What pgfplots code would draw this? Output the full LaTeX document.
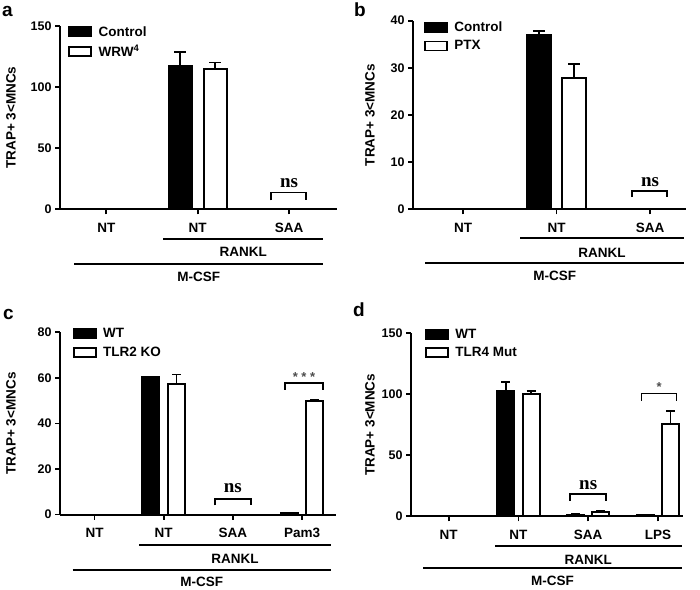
\documentclass[border=0pt]{standalone}
\usepackage{pgfplots}
\pgfplotsset{compat=1.18}
\usepackage{fontspec}
\setmainfont{Liberation Sans}
\newfontfamily\serifns{Liberation Serif}
\newcommand{\fs}[1]{\fontsize{#1}{#1}\selectfont}

\pgfplotsset{
 prism/.style={
  scale only axis, anchor=south west, clip=false,
  axis lines*=left,
  axis line style={line width=2pt, black},
  ymin=0, enlargelimits=false,
  tick align=outside, major tick length=5pt,
  tick style={line width=1.8pt, black},
  ticklabel style={font=\bfseries\fs{12.5}},
  xticklabel style={font=\bfseries\fs{13.5}, yshift=-5pt},
  /pgf/number format/assume math mode=true,
  ybar,
  legend cell align=left,
  legend style={draw=none, fill=none, anchor=north west, inner sep=0pt, row sep=4.5pt, font=\bfseries\fs{13.5},
     nodes={inner sep=1.5pt}, /tikz/every odd column/.append style={column sep=5pt}},
 },
 ylab/.style={every axis y label/.style={at={(rel axis cs:#1,0.5)}, rotate=90, anchor=center, font=\bfseries\fs{13.5}}},
 boxlegend/.style={legend image code/.code={\draw[##1, line width=1.8pt] (0pt,-4.5pt) rectangle (22pt,4.5pt);}},
 ctrl/.style={fill=black, draw=black, line width=2pt, boxlegend},
 trt/.style={fill=white, draw=black, line width=2pt, boxlegend},
 eb/.style={/pgfplots/error bars/y dir=plus, /pgfplots/error bars/y explicit,
   /pgfplots/error bars/error bar style={line width=1.8pt, black},
   /pgfplots/error bars/error mark options={rotate=90, mark size=#1, line width=1.8pt, black}},
}

\begin{document}
\begin{tikzpicture}
\path[use as bounding box] (0pt,0pt) rectangle (700pt,589pt);

% ---------------- panel a
\begin{axis}[prism, ylab=-0.177,
  at={(60pt,379.7pt)}, width=277pt, height=183.3pt,
  xmin=-0.507, xmax=2.525, ymax=150,
  xtick={0,1,2}, xticklabels={NT,NT,SAA},
  ytick={0,50,100,150},
  bar width=23pt, ybar=12pt,
  ylabel={TRAP+ 3<MNCs},
  legend style={at={(rel axis cs:0.029,1.008)}},
]
\addplot[ctrl, eb=6pt] coordinates {(1,117.5) +- (0,11.2)};
\addplot[trt, eb=6pt] coordinates {(1,114.6) +- (0,5.6)};
\legend{Control, WRW\textsuperscript{4}}
\draw[line width=1.8pt] (axis cs:1.803,7.4) -- (axis cs:1.803,13.7) -- (axis cs:2.186,13.7) -- (axis cs:2.186,7.4);
\node[font=\serifns\bfseries\fs{19}] at (axis cs:2,21.8) {ns};
\end{axis}

% ---------------- panel b
\begin{axis}[prism, ylab=-0.158,
  at={(413pt,379.7pt)}, width=273pt, height=188.6pt,
  xmin=-0.535, xmax=2.385, ymax=40,
  xtick={0,1,2}, xticklabels={NT,NT,SAA},
  ytick={0,10,20,30,40},
  bar width=23.6pt, ybar=11.8pt,
  ylabel={TRAP+ 3<MNCs},
  legend style={at={(rel axis cs:0.040,1.003)}},
]
\addplot[ctrl, eb=6pt] coordinates {(1,36.9) +- (0,0.9)};
\addplot[trt, eb=6pt] coordinates {(1,27.9) +- (0,3.0)};
\legend{Control, PTX}
\draw[line width=1.8pt] (axis cs:1.81,2.6) -- (axis cs:1.81,3.9) -- (axis cs:2.185,3.9) -- (axis cs:2.185,2.6);
\node[font=\serifns\bfseries\fs{19}] at (axis cs:2,5.7) {ns};
\end{axis}

% ---------------- panel c
\begin{axis}[prism, ylab=-0.178,
  at={(60pt,74.5pt)}, width=276pt, height=182.2pt,
  xmin=-0.499, xmax=3.49, ymax=80,
  xtick={0,1,2,3}, xticklabels={NT,NT,SAA,Pam3},
  ytick={0,20,40,60,80},
  bar width=17pt, ybar=8.6pt,
  ylabel={TRAP+ 3<MNCs},
  legend style={at={(rel axis cs:0.046,1.031)}},
]
\addplot[ctrl, eb=4.5pt] coordinates {(1,60.3) +- (0,0.3) (3,0.5) +- (0,0.1)};
\addplot[trt, eb=4.5pt] coordinates {(1,57.4) +- (0,4.1) (3,49.8) +- (0,0.7)};
\legend{WT, TLR2 KO}
\draw[line width=1.8pt] (axis cs:1.742,4.0) -- (axis cs:1.742,6.9) -- (axis cs:2.258,6.9) -- (axis cs:2.258,4.0);
\node[font=\serifns\bfseries\fs{19}] at (axis cs:2,11.4) {ns};
\draw[line width=1.8pt] (axis cs:2.754,54.8) -- (axis cs:2.754,57.7) -- (axis cs:3.299,57.7) -- (axis cs:3.299,54.8);
\node[font=\bfseries\fs{13}, text=black!70] at (axis cs:3.027,60.5) {*\ *\ *};
\end{axis}

% ---------------- panel d
\begin{axis}[prism, ylab=-0.151,
  at={(411pt,72.7pt)}, width=272pt, height=183pt,
  xmin=-0.541, xmax=3.36, ymax=150,
  xtick={0,1,2,3}, xticklabels={NT,NT,SAA,LPS},
  ytick={0,50,100,150},
  bar width=17pt, ybar=8.3pt,
  ylabel={TRAP+ 3<MNCs},
  legend style={at={(rel axis cs:0.051,1.034)}},
]
\addplot[ctrl, eb=4.5pt] coordinates {(1,102.9) +- (0,7.4) (2,1.2) +- (0,0.5) (3,1.2) +- (0,0.3)};
\addplot[trt, eb=4.5pt] coordinates {(1,100.2) +- (0,2.8) (2,3.5) +- (0,1.0) (3,75.5) +- (0,11.0)};
\legend{WT, TLR4 Mut}
\draw[line width=1.8pt] (axis cs:1.738,12.6) -- (axis cs:1.738,18) -- (axis cs:2.254,18) -- (axis cs:2.254,12.6);
\node[font=\serifns\bfseries\fs{19}] at (axis cs:2,25.5) {ns};
\draw[line width=1.8pt] (axis cs:2.766,94.7) -- (axis cs:2.766,100.7) -- (axis cs:3.268,100.7) -- (axis cs:3.268,94.7);
\node[font=\bfseries\fs{13}, text=black!70] at (axis cs:3.017,105.6) {*};
\end{axis}

% ---------------- group lines and labels
\begin{scope}[line width=2.2pt]
\draw (163.3pt,349.7pt) -- (323.3pt,349.7pt);
\draw (74pt,325pt) -- (323.3pt,325pt);
\draw (520pt,351.3pt) -- (684.3pt,351.3pt);
\draw (425pt,325.7pt) -- (684.3pt,325.7pt);
\draw (139pt,44pt) -- (330.7pt,44pt);
\draw (72.7pt,19pt) -- (330.7pt,19pt);
\draw (495pt,43pt) -- (681.7pt,43pt);
\draw (423.3pt,20.7pt) -- (681.7pt,20.7pt);
\end{scope}
\begin{scope}[every node/.style={font=\bfseries\fs{13.5}, anchor=center, inner sep=0pt}]
\node at (243.3pt,337.5pt) {RANKL};
\node at (198.7pt,312.3pt) {M-CSF};
\node at (602pt,336pt) {RANKL};
\node at (554.7pt,313pt) {M-CSF};
\node at (235pt,30pt) {RANKL};
\node at (201.7pt,7.3pt) {M-CSF};
\node at (588.3pt,29pt) {RANKL};
\node at (552.5pt,8pt) {M-CSF};
\end{scope}
\begin{scope}[every node/.style={font=\bfseries\fs{19}, anchor=base west, inner sep=0pt}]
\node at (2pt,572pt) {a};
\node at (354pt,572pt) {b};
\node at (3pt,269pt) {c};
\node at (353pt,272pt) {d};
\end{scope}
\end{tikzpicture}
\end{document}
